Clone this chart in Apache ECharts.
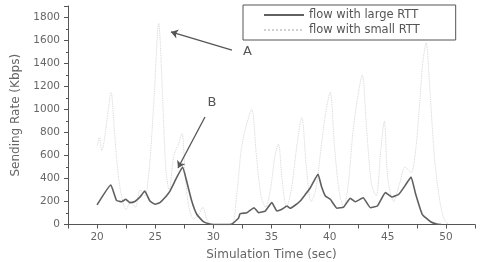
<!DOCTYPE html>
<html>
<head>
<meta charset="utf-8">
<script src="https://cdn.jsdelivr.net/npm/echarts@6/dist/echarts.min.js"></script>
<style>
  html, body { margin: 0; padding: 0; background: #fff; }
  #chart { width: 480px; height: 262px; }
</style>
</head>
<body>
<div id="chart"></div>
<script>
// flow with large RTT (dark curve): [time, rate]
const largeRtt = [
  [20.0, 170], [21.18, 343], [21.67, 210], [22.1, 198], [22.47, 219], [22.82, 190],
  [23.25, 200], [23.7, 240], [24.1, 291], [24.54, 204], [25.0, 176], [25.4, 190],
  [25.8, 230], [26.27, 291], [26.84, 407], [27.36, 500], [27.7, 378], [28.14, 204],
  [28.57, 89], [29.14, 24], [29.6, 6], [30.0, 0], [31.0, 0], [31.6, 5], [32.16, 54],
  [32.3, 94], [32.88, 103], [33.5, 146], [33.88, 103], [34.46, 117], [35.03, 190],
  [35.47, 117], [35.9, 132], [36.33, 161], [36.6, 141], [37.0, 165], [37.47, 204],
  [37.9, 260], [38.34, 320], [39.0, 436], [39.3, 330], [39.63, 248], [40.06, 219],
  [40.64, 141], [41.2, 152], [41.78, 228], [42.2, 198], [42.88, 233], [43.5, 146],
  [44.1, 161], [44.8, 277], [45.38, 239], [45.95, 263], [46.5, 340], [47.0, 413],
  [47.4, 263], [47.96, 89], [48.68, 24], [49.2, 4], [49.6, 0]
];

// flow with small RTT (faint curve): [time, rate]
const smallRtt = [
  [20.0, 680], [20.2, 760], [20.4, 640], [20.6, 720], [20.9, 950], [21.2, 1150],
  [21.5, 800], [21.8, 450], [22.1, 250], [22.5, 130], [22.9, 200], [23.3, 150],
  [23.7, 300], [24.1, 250], [24.5, 500], [24.9, 1100], [25.3, 1750], [25.6, 1200],
  [25.9, 500], [26.2, 300], [26.6, 600], [27.0, 700], [27.3, 790], [27.6, 400],
  [27.9, 150], [28.3, 50], [28.7, 80], [29.1, 150], [29.5, 30], [30.0, 0],
  [31.0, 0], [31.6, 0], [32.0, 250], [32.4, 650], [32.8, 850], [33.3, 1000],
  [33.7, 600], [34.1, 250], [34.5, 150], [34.9, 300], [35.3, 600], [35.6, 700],
  [35.9, 400], [36.3, 150], [36.7, 300], [37.2, 700], [37.6, 930], [38.0, 500],
  [38.4, 200], [38.8, 300], [39.3, 700], [39.7, 1000], [40.05, 1150], [40.4, 700],
  [40.8, 300], [41.2, 150], [41.6, 350], [42.0, 800], [42.4, 1100], [42.8, 1300],
  [43.2, 800], [43.6, 350], [44.0, 250], [44.4, 650], [44.7, 900], [45.0, 400],
  [45.5, 200], [46.0, 350], [46.5, 500], [47.0, 450], [47.4, 650], [47.7, 1000],
  [48.0, 1400], [48.3, 1580], [48.6, 1200], [49.0, 600], [49.4, 250], [49.8, 60],
  [50.2, 0]
];

const seriesNames = ["flow with large RTT", "flow with small RTT"];

// annotations: label, text position, arrow tail, arrow head (data coords)
const notes = [
  { text: "A", at: [32.55, 1500], from: [31.6, 1517], to: [26.35, 1674] },
  { text: "B", at: [29.5, 1060], from: [29.28, 935], to: [26.96, 491] }
];

const FONT = "DejaVu Sans";
const chart = echarts.init(document.getElementById("chart"));

chart.setOption({
  animation: false,
  textStyle: { fontFamily: FONT },
  grid: { left: 68, right: 5, top: 6, bottom: 37.5, outerBoundsMode: "none", containLabel: false },
  legend: {
    left: 243,
    top: 5,
    orient: "vertical",
    itemWidth: 40,
    itemHeight: 10,
    itemGap: 3,
    padding: [4, 36, 4, 20],
    borderColor: "#555",
    borderWidth: 1,
    borderRadius: 0,
    itemStyle: { opacity: 0 },
    textStyle: { fontFamily: FONT, fontSize: 11.5, color: "#555" },
    data: seriesNames
  },
  xAxis: {
    type: "value",
    min: 17.5,
    max: 52.5,
    interval: 2.5,
    name: "Simulation Time (sec)",
    nameLocation: "middle",
    nameGap: 24,
    nameTextStyle: { fontFamily: FONT, fontSize: 12, color: "#666" },
    axisLine: { lineStyle: { color: "#555" } },
    axisTick: { inside: false, length: 4, lineStyle: { color: "#555" } },
    splitLine: { show: false },
    axisLabel: {
      color: "#666",
      fontSize: 10.5,
      margin: 7,
      formatter: (v) => (v % 5 === 0 ? String(v) : "")
    }
  },
  yAxis: {
    type: "value",
    min: 0,
    max: 1900,
    interval: 200,
    name: "Sending Rate (Kbps)",
    nameLocation: "middle",
    nameGap: 46,
    nameTextStyle: { fontFamily: FONT, fontSize: 12, color: "#666" },
    axisLine: { show: true, lineStyle: { color: "#555" } },
    axisTick: { show: true, length: 4, lineStyle: { color: "#555" } },
    minorTick: { show: true, splitNumber: 2, length: 2, lineStyle: { color: "#555" } },
    splitLine: { show: false },
    axisLabel: {
      color: "#666",
      fontSize: 10.5,
      margin: 8,
      showMaxLabel: false,
      formatter: (v) => String(v)
    }
  },
  series: [
    {
      name: seriesNames[1],
      type: "line",
      data: smallRtt,
      symbol: "none",
      smooth: 0.3,
      z: 1,
      itemStyle: { color: "#d0d0d0" },
      lineStyle: { color: "#d0d0d0", width: 0.9, type: "dotted" },
      markLine: {
        silent: true,
        symbol: ["none", "arrow"],
        symbolSize: 7,
        label: { show: false },
        lineStyle: { color: "#555", width: 1.3, type: "solid" },
        data: notes.map((n) => [{ coord: n.from }, { coord: n.to }])
      }
    },
    {
      name: seriesNames[0],
      type: "line",
      data: largeRtt,
      symbol: "none",
      smooth: 0.12,
      z: 2,
      itemStyle: { color: "#606060" },
      lineStyle: { color: "#606060", width: 1.6 }
    }
  ]
});

chart.setOption({
  graphic: notes.map((n) => {
    const p = chart.convertToPixel({ gridIndex: 0 }, n.at);
    return {
      type: "text",
      x: p[0],
      y: p[1],
      style: { text: n.text, fill: "#555", font: "13px " + FONT, textAlign: "left", textVerticalAlign: "middle" }
    };
  })
});
</script>
</body>
</html>
